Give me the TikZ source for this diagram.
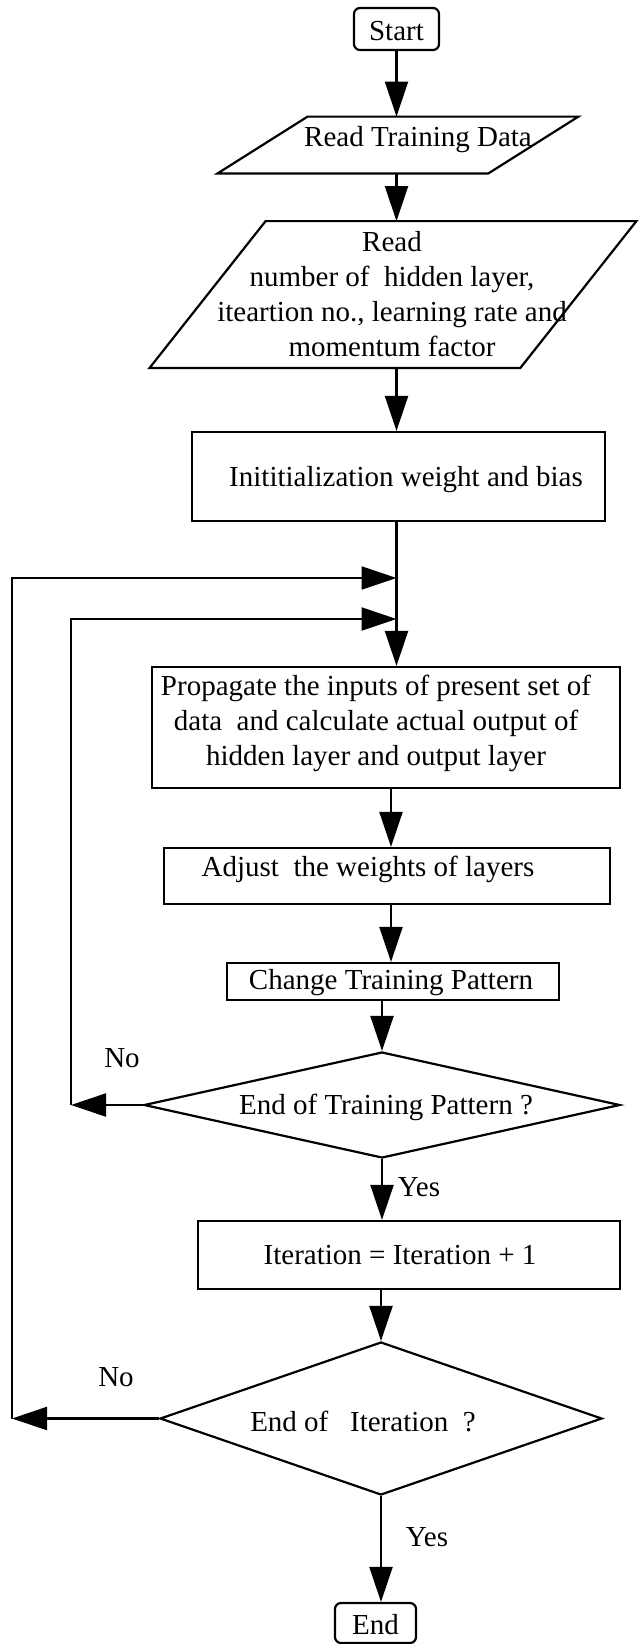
\documentclass[tikz,border=0pt]{standalone}
\usepackage{fontspec}
\setmainfont{Liberation Serif}
\usetikzlibrary{arrows.meta,shapes.geometric,calc}
\tikzset{
  line/.style={line width=1.1pt, draw=black},
  arr/.style={line, -{Triangle[length=17.5pt,width=11.5pt]}},
  box/.style={line, rectangle, inner sep=0pt},
  term/.style={box, rounded corners=3pt},
  io/.style={rectangle, inner sep=0pt, draw=none},
  test/.style={line, diamond, inner sep=0pt},
  txt/.style={inner sep=0pt, font=\fontsize{14.5}{17.5}\selectfont, align=center},
}
\begin{document}
\begin{tikzpicture}[x=0.5pt,y=-0.5pt]
\useasboundingbox (0,0) rectangle (639,1644);

% shapes
\node[term, minimum width=42.5pt, minimum height=21pt] (start) at (396.5,29) {};
\node[io, minimum width=135pt, minimum height=28pt] (p1) at (398,145) {};
\draw[line] ($(p1.north west)+(45,0)$) -- ($(p1.north east)+(45,0)$)
  -- ($(p1.south east)+(-45,0)$) -- ($(p1.south west)+(-45,0)$) -- cycle;
\node[io, minimum width=185pt, minimum height=73pt] (p2) at (393,294.5) {};
\draw[line] ($(p2.north west)+(58,0)$) -- ($(p2.north east)+(58,0)$)
  -- ($(p2.south east)+(-58,0)$) -- ($(p2.south west)+(-58,0)$) -- cycle;
\node[box, minimum width=206.5pt, minimum height=44.5pt] (init) at (398.5,476.5) {};
\node[box, minimum width=234pt, minimum height=60.5pt] (prop) at (386,727.5) {};
\node[box, minimum width=223pt, minimum height=28pt] (adj) at (387,876) {};
\node[box, minimum width=166pt, minimum height=18.5pt] (chg) at (393,981.5) {};
\node[test, minimum width=238pt, minimum height=53pt] (d1) at (382,1105) {};
\node[box, minimum width=211pt, minimum height=34pt] (iter) at (409,1255) {};
\node[test, minimum width=221pt, minimum height=76.5pt] (d2) at (381,1418.5) {};
\node[term, minimum width=40.5pt, minimum height=20pt] (end) at (375.5,1623) {};

% texts
\node[txt] (tstart) at (396.5,31) {Start};
\node[txt] (tp1) at (418,140) {Read Training Data};
\node[txt] (tp2) at (392,294) {Read\\number of\ \ hidden layer,\\iteartion no., learning rate and\\momentum factor};
\node[txt] (tinit) at (406,480) {Inititialization weight and bias};
\node[txt] (tprop) at (376,723) {Propagate the inputs of present set of\\data\ \ and calculate actual output of\\hidden layer and output layer};
\node[txt] (tadj) at (368,869) {Adjust\ \ the weights of layers};
\node[txt] (tchg) at (391,983) {Change Training Pattern};
\node[txt] (td1) at (386,1107) {End of Training Pattern ?};
\node[txt] (titer) at (400,1255) {Iteration = Iteration + 1};
\node[txt] (td2) at (363,1421) {End of\ \ \ Iteration\ \ ?};
\node[txt] (tend) at (375.5,1625) {End};
\node[txt] (no1) at (122,1058) {No};
\node[txt] (no2) at (116,1377) {No};
\node[txt] (yes1) at (419,1187) {Yes};
\node[txt] (yes2) at (427,1537) {Yes};

% columns and joints of the connectors
\coordinate (c2) at (391,0);
\coordinate (n1) at (71,0);
\coordinate (n2) at (12,0);
\coordinate (j1) at (396.5,578);
\coordinate (j2) at (396.5,619);

% main flow
\draw[arr] (start.south) -- (start.south |- p1.north);
\draw[arr] (start.south |- p1.south) -- (start.south |- p2.north);
\draw[arr] (start.south |- p2.south) -- (start.south |- init.north);
\draw[arr] (start.south |- init.south) -- (start.south |- prop.north);
\draw[arr] (c2 |- prop.south) -- (c2 |- adj.north);
\draw[arr] (c2 |- adj.south) -- (c2 |- chg.north);
\draw[arr] (d1.north |- chg.south) -- (d1.north);
\draw[arr] (d1.south) -- (d1.south |- iter.north);
\draw[arr] (d2.north |- iter.south) -- (d2.north);
\draw[arr] (d2.south) -- (d2.south |- end.north);

% loop back paths
\draw[arr] (d1.west) -- (n1 |- d1.west);
\draw[arr] (n1 |- d1.west) -- (n1 |- j2) -- (j2);
\draw[arr] (d2.west) -- (n2 |- d2.west);
\draw[arr] (n2 |- d2.west) -- (n2 |- j1) -- (j1);
\end{tikzpicture}
\end{document}
